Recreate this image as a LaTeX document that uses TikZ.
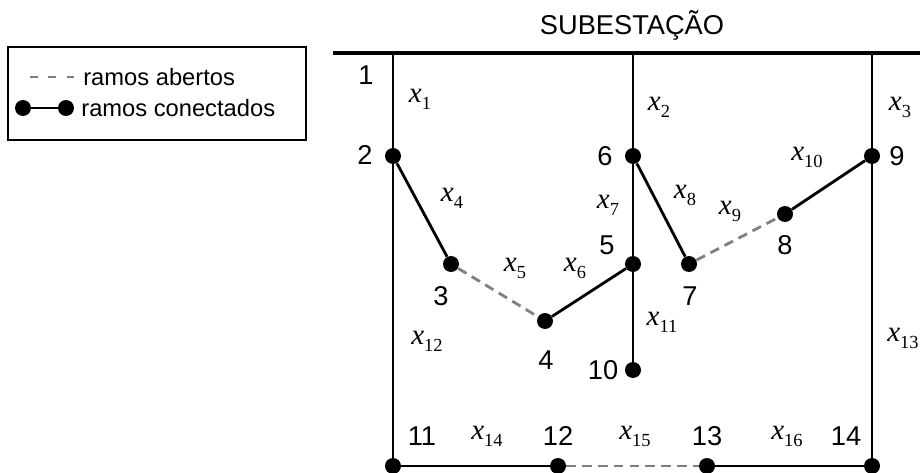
\documentclass[tikz,border=0pt]{standalone}
\usepackage{fontspec}
\setmainfont{Liberation Sans}
\newfontfamily\varfont{Liberation Serif}
\newcommand{\varx}[1]{{\itshape x}\raisebox{-0.24em}{\fontsize{10.5}{11}\selectfont #1}}
\usetikzlibrary{calc,positioning}

\begin{document}
\begin{tikzpicture}[
  x=0.02cm,y=-0.02cm,
  barra/.style={circle,fill=black,draw=none,minimum size=0.32cm,inner sep=0pt},
  fechado/.style={draw=black,line width=1.6pt},
  aberto/.style={draw=gray,line width=1.6pt,dash pattern=on 5.5pt off 3.5pt},
  rotulo/.style={inner sep=0pt,font=\fontsize{15.5}{18}\selectfont},
  legtxt/.style={inner sep=0pt,anchor=west,font=\fontsize{13.5}{16}\selectfont},
  ramo/.style={inner sep=0pt,font=\varfont\fontsize{16.5}{18}\selectfont}
]
\useasboundingbox (0,0) rectangle (920,473);

% barramento
\coordinate (B0) at (333,53);
\coordinate (B4) at (920,53);
\coordinate (B1) at (393,53);
\coordinate (B2) at (633,53);
\coordinate (B3) at (872,53);
\draw[line width=2pt] (B0)--(B4);
\node[rotulo] (sub) at (632,25.5) {SUBESTAÇÃO};

% legenda
\node[draw=black,line width=0.9pt,minimum width=5.96cm,minimum height=1.86cm,
      inner sep=0pt] (leg) at (157,93.5) {};
\coordinate (LA) at (30,77);
\coordinate (LB) at (74,77);
\draw[aberto,dash pattern=on 4.5pt off 6pt] (LA)--(LB);
\node[legtxt] (legA) at (83,77) {ramos abertos};
\node[barra] (LC) at (23,108) {};
\node[barra] (LD) at (66,108) {};
\draw[fechado] (LC)--(LD);
\node[legtxt] (legB) at (81,108) {ramos conectados};

% barras
\node[barra] (n2) at (393,156) {};
\node[barra] (n3) at (451,264) {};
\node[barra] (n4) at (545,321) {};
\node[barra] (n5) at (633,264) {};
\node[barra] (n6) at (633,156) {};
\node[barra] (n7) at (689,264) {};
\node[barra] (n8) at (785,214) {};
\node[barra] (n9) at (872,156) {};
\node[barra] (n10) at (633,370) {};
\node[barra] (n11) at (393,466) {};
\node[barra] (n12) at (558,466) {};
\node[barra] (n13) at (707,466) {};
\node[barra] (n14) at (872,466) {};

% ramos
\draw[fechado] (B1)--(n2);
\draw[fechado] (B2)--(n6);
\draw[fechado] (B3)--(n9);
\draw[fechado] (n2)--(n3);
\draw[aberto] (n3)--(n4);
\draw[fechado] (n4)--(n5);
\draw[fechado] (n5)--(n6);
\draw[fechado] (n6)--(n7);
\draw[aberto] (n7)--(n8);
\draw[fechado] (n8)--(n9);
\draw[fechado] (n5)--(n10);
\draw[fechado] (n2)--(n11);
\draw[fechado] (n9)--(n14);
\draw[fechado] (n11)--(n12);
\draw[aberto] (n12)--(n13);
\draw[fechado] (n13)--(n14);

% numeros
\node[rotulo] (t1) at (366,75) {1};
\node[rotulo] (t2) at (365,155) {2};
\node[rotulo] (t3) at (441,296) {3};
\node[rotulo] (t4) at (546,360) {4};
\node[rotulo] (t5) at (607,245) {5};
\node[rotulo] (t6) at (605,156) {6};
\node[rotulo] (t7) at (690,296) {7};
\node[rotulo] (t8) at (785,245) {8};
\node[rotulo] (t9) at (897,156) {9};
\node[rotulo] (t10) at (603,370) {10};
\node[rotulo] (t11) at (422,436) {11};
\node[rotulo] (t12) at (558,436) {12};
\node[rotulo] (t13) at (707,436) {13};
\node[rotulo] (t14) at (846,436) {14};

% variaveis
\node[ramo] (x1) at (420,99) {\varx{1}};
\node[ramo] (x2) at (659,107) {\varx{2}};
\node[ramo] (x3) at (900,107) {\varx{3}};
\node[ramo] (x4) at (452,198) {\varx{4}};
\node[ramo] (x5) at (515,268) {\varx{5}};
\node[ramo] (x6) at (575,268) {\varx{6}};
\node[ramo] (x7) at (608,205) {\varx{7}};
\node[ramo] (x8) at (685,195) {\varx{8}};
\node[ramo] (x9) at (730,211) {\varx{9}};
\node[ramo] (x10) at (807,157) {\varx{10}};
\node[ramo] (x11) at (662,322) {\varx{11}};
\node[ramo] (x12) at (427,341) {\varx{12}};
\node[ramo] (x13) at (903,338) {\varx{13}};
\node[ramo] (x14) at (487,436) {\varx{14}};
\node[ramo] (x15) at (635,436) {\varx{15}};
\node[ramo] (x16) at (787,436) {\varx{16}};
\end{tikzpicture}
\end{document}
